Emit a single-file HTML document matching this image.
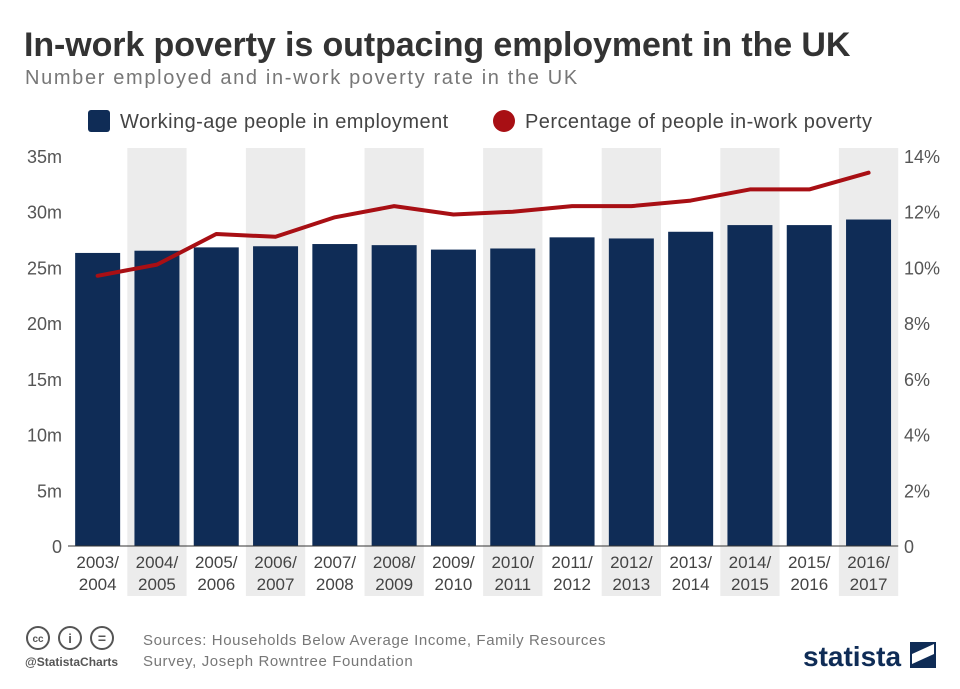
<!DOCTYPE html>
<html><head><meta charset="utf-8"><style>
body{margin:0;width:960px;height:684px;background:#fff;font-family:"Liberation Sans",sans-serif;overflow:hidden}
</style></head><body>
<svg id="c" width="960" height="684" xmlns="http://www.w3.org/2000/svg">
<text x="24" y="56" font-size="34" font-weight="bold" fill="#333" letter-spacing="-0.1">In-work poverty is outpacing employment in the UK</text>
<text x="25" y="84" font-size="20" fill="#777" letter-spacing="1.65">Number employed and in-work poverty rate in the UK</text>
<g>
<rect x="88" y="110" width="22" height="22" rx="3" fill="#0f2c56"/>
<text x="120" y="128" font-size="20" fill="#444" letter-spacing="0.45">Working-age people in employment</text>
<circle cx="504" cy="121" r="11" fill="#a80f14"/>
<text x="525" y="128" font-size="20" fill="#444" letter-spacing="0.45">Percentage of people in-work poverty</text>
</g>
<g id="plot"></g>
<g>
<circle cx="38" cy="638" r="11" fill="none" stroke="#555" stroke-width="2"/>
<text x="38" y="642" font-size="10" font-weight="bold" fill="#555" text-anchor="middle">cc</text>
<circle cx="70" cy="638" r="11" fill="none" stroke="#555" stroke-width="2"/>
<text x="70" y="643" font-size="13" font-weight="bold" fill="#555" text-anchor="middle">i</text>
<circle cx="102" cy="638" r="11" fill="none" stroke="#555" stroke-width="2"/>
<text x="102" y="643" font-size="14" font-weight="bold" fill="#555" text-anchor="middle">=</text>
<text x="25" y="666" font-size="12" font-weight="bold" fill="#555">@StatistaCharts</text>
<text x="143" y="645" font-size="15" fill="#777" letter-spacing="0.6">Sources: Households Below Average Income, Family Resources</text>
<text x="143" y="666" font-size="15" fill="#777" letter-spacing="0.6">Survey, Joseph Rowntree Foundation</text>
<text x="803" y="666" font-size="28" font-weight="bold" fill="#0f2c56">statista</text>
<path d="M910 642h26v26h-26z" fill="#0f2c56"/><path d="M912 664l22-10v-10l-22 10z" fill="#fff"/>
</g>
</svg>
<script>
const categories=["2003/2004","2004/2005","2005/2006","2006/2007","2007/2008","2008/2009","2009/2010","2010/2011","2011/2012","2012/2013","2013/2014","2014/2015","2015/2016","2016/2017"];
const employment=[26.3,26.5,26.8,26.9,27.1,27.0,26.6,26.7,27.7,27.6,28.2,28.8,28.8,29.3];
const poverty=[9.7,10.1,11.2,11.1,11.8,12.2,11.9,12.0,12.2,12.2,12.4,12.8,12.8,13.4];
const leftTicks=[0,5,10,15,20,25,30,35];
const rightTicks=[0,2,4,6,8,10,12,14];
const NS="http://www.w3.org/2000/svg";
const g=document.getElementById('plot');
const y0=546,yTop=156,x0=68,step=59.3;
const yL=v=>y0-(v/35)*(y0-yTop);
const yR=v=>y0-(v/14)*(y0-yTop);
const xc=i=>x0+step*(i+0.5);
function mk(t,a){const e=document.createElementNS(NS,t);for(const k in a)e.setAttribute(k,a[k]);g.appendChild(e);return e;}
categories.forEach((c,i)=>{
 if(i%2===1){const r=mk('rect',{x:xc(i)-step/2,y:148,width:step,height:448,fill:'#ececec'});
 
 }
});
leftTicks.forEach(v=>{
 const t=mk('text',{x:62,y:yL(v)+7,'font-size':18,fill:'#555','text-anchor':'end'});t.textContent=v===0?'0':v+'m';
 
 
});
rightTicks.forEach(v=>{
 const t=mk('text',{x:904,y:yR(v)+7,'font-size':18,fill:'#555'});t.textContent=v===0?'0':v+'%';
 
 
});
employment.forEach((v,i)=>{
 const r=mk('rect',{x:xc(i)-22.5,y:yL(v),width:45,height:y0-yL(v),fill:'#0f2c56'});
 
 
 const p=categories[i].split('/');
 const t=mk('text',{x:xc(i),y:568,'font-size':17,fill:'#444','text-anchor':'middle'});t.textContent=p[0]+'/';
 
 
 const t2=mk('text',{x:xc(i),y:590,'font-size':17,fill:'#444','text-anchor':'middle'});t2.textContent=p[1];
});
mk('line',{x1:x0,x2:x0+step*14,y1:y0,y2:y0,stroke:'#333','stroke-width':1});
const pts=poverty.map((v,i)=>xc(i)+','+yR(v)).join(' ');
const l=mk('polyline',{points:pts,fill:'none',stroke:'#a80f14','stroke-width':4,'stroke-linejoin':'round','stroke-linecap':'round'});


</script>
</body></html>
